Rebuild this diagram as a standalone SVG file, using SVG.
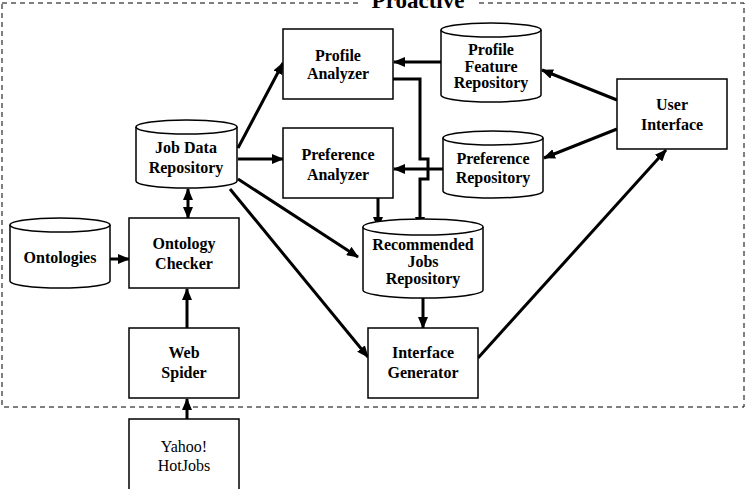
<svg xmlns="http://www.w3.org/2000/svg" width="746" height="489" viewBox="0 0 746 489">
<style>
.n{fill:#fff;stroke:#000;stroke-width:1.5}
.t{font-family:"Liberation Serif","Times New Roman",serif;font-weight:bold;font-size:16px;text-anchor:middle}
.r{font-family:"Liberation Serif","Times New Roman",serif;font-size:16px;text-anchor:middle}
.c{fill:none;stroke:#000;stroke-width:3}
</style>
<defs>
<marker id="a" markerUnits="userSpaceOnUse" markerWidth="12" markerHeight="10" refX="11" refY="5" orient="auto-start-reverse">
<path d="M0,0 L12,5 L0,10 z" fill="#000"/>
</marker>
</defs>
<rect width="746" height="489" fill="#fff"/>
<rect x="2" y="3" width="742" height="404" fill="none" stroke="#000" stroke-width="1" stroke-dasharray="5,4"/>
<rect x="360" y="0" width="116" height="12" fill="#fff"/>
<text x="418" y="8" style="font-family:'Liberation Serif','Times New Roman',serif;font-weight:bold;font-size:23px;text-anchor:middle">Proactive</text>

<g id="connectors">
<line class="c" x1="238" y1="148" x2="283" y2="63" marker-end="url(#a)"/>
<line class="c" x1="441" y1="62" x2="394" y2="62" marker-end="url(#a)"/>
<line class="c" x1="617" y1="100" x2="542" y2="70" marker-end="url(#a)"/>
<line class="c" x1="617" y1="129" x2="544" y2="158" marker-end="url(#a)"/>
<line class="c" x1="238" y1="159" x2="283" y2="159" marker-end="url(#a)"/>
<line class="c" x1="443" y1="169" x2="394" y2="169" marker-end="url(#a)"/>
<path class="c" d="M393,79 H420 V159 H428 V179 H420 V228" marker-end="url(#a)"/>
<line class="c" x1="378" y1="198" x2="378" y2="228" marker-end="url(#a)"/>
<line class="c" x1="238" y1="179" x2="358" y2="257" marker-end="url(#a)"/>
<line class="c" x1="230" y1="189" x2="368" y2="357" marker-end="url(#a)"/>
<line class="c" x1="423" y1="298" x2="423" y2="328" marker-end="url(#a)"/>
<line class="c" x1="478" y1="358" x2="666" y2="150" marker-end="url(#a)"/>
<line class="c" x1="188" y1="189" x2="188" y2="218" marker-start="url(#a)" marker-end="url(#a)"/>
<line class="c" x1="110" y1="259" x2="129" y2="259" marker-end="url(#a)"/>
<line class="c" x1="187" y1="328" x2="187" y2="289" marker-end="url(#a)"/>
<line class="c" x1="187" y1="419" x2="187" y2="399" marker-end="url(#a)"/>
</g>

<g id="profile-analyzer">
<rect class="n" x="283" y="29" width="110" height="70"/>
<text class="t" x="338" y="61">Profile</text>
<text class="t" x="338" y="79">Analyzer</text>
</g>

<g id="profile-feature-repository">
<path class="n" d="M441,30 A50,7 0 0 1 541,30 V95 A50,7 0 0 1 441,95 Z"/>
<path class="n" fill="none" d="M441,30 A50,7 0 0 0 541,30"/>
<text class="t" x="491" y="55">Profile</text>
<text class="t" x="491" y="72">Feature</text>
<text class="t" x="491" y="88">Repository</text>
</g>

<g id="user-interface">
<rect class="n" x="617" y="79" width="110" height="70"/>
<text class="t" x="672" y="110">User</text>
<text class="t" x="672" y="130">Interface</text>
</g>

<g id="job-data-repository">
<path class="n" d="M136,127 A50.5,7 0 0 1 237,127 V181 A50.5,7 0 0 1 136,181 Z"/>
<path class="n" fill="none" d="M136,127 A50.5,7 0 0 0 237,127"/>
<text class="t" x="186" y="153">Job Data</text>
<text class="t" x="186" y="173">Repository</text>
</g>

<g id="preference-analyzer">
<rect class="n" x="283" y="128" width="110" height="70"/>
<text class="t" x="338" y="160">Preference</text>
<text class="t" x="338" y="180">Analyzer</text>
</g>

<g id="preference-repository">
<path class="n" d="M443,138 A50,7 0 0 1 543,138 V191 A50,7 0 0 1 443,191 Z"/>
<path class="n" fill="none" d="M443,138 A50,7 0 0 0 543,138"/>
<text class="t" x="493" y="164">Preference</text>
<text class="t" x="493" y="183">Repository</text>
</g>

<g id="recommended-jobs-repository">
<path class="n" d="M363,227 A60,8 0 0 1 483,227 V290 A60,8 0 0 1 363,290 Z"/>
<path class="n" fill="none" d="M363,227 A60,8 0 0 0 483,227"/>
<text class="t" x="423" y="250">Recommended</text>
<text class="t" x="423" y="267">Jobs</text>
<text class="t" x="423" y="284">Repository</text>
</g>

<g id="ontologies">
<path class="n" d="M10,225 A50,7 0 0 1 110,225 V281 A50,7 0 0 1 10,281 Z"/>
<path class="n" fill="none" d="M10,225 A50,7 0 0 0 110,225"/>
<text class="t" x="60" y="263">Ontologies</text>
</g>

<g id="ontology-checker">
<rect class="n" x="129" y="218" width="110" height="70"/>
<text class="t" x="184" y="249">Ontology</text>
<text class="t" x="184" y="269">Checker</text>
</g>

<g id="web-spider">
<rect class="n" x="129" y="328" width="110" height="70"/>
<text class="t" x="184" y="358">Web</text>
<text class="t" x="184" y="378">Spider</text>
</g>

<g id="interface-generator">
<rect class="n" x="368" y="328" width="110" height="70"/>
<text class="t" x="423" y="358">Interface</text>
<text class="t" x="423" y="378">Generator</text>
</g>

<g id="yahoo-hotjobs">
<rect class="n" x="129" y="419" width="110" height="72"/>
<text class="r" x="184" y="452">Yahoo!</text>
<text class="r" x="184" y="471">HotJobs</text>
</g>
</svg>
